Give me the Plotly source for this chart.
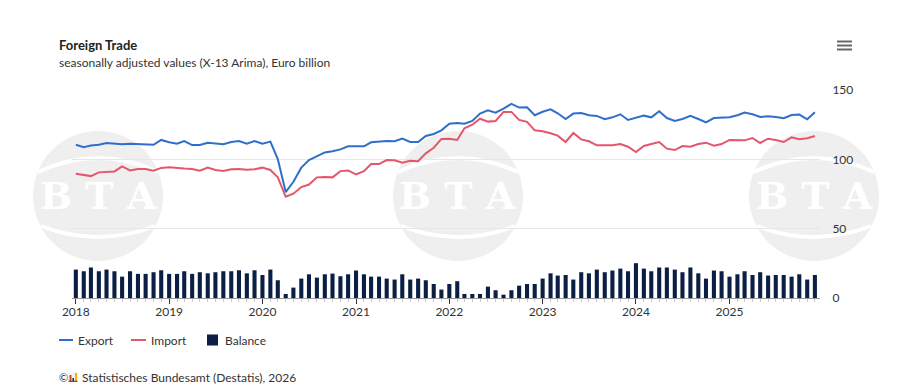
import pandas as pd
import plotly.graph_objects as go

# ---------------- data ----------------
months = pd.date_range("2018-01-01", "2025-12-01", freq="MS")

export_vals = [
    110.5, 108.7, 110.0, 110.5, 111.8, 111.3, 110.9, 111.3, 111.1, 110.9, 110.5, 114.0,
    112.3, 111.3, 113.2, 110.3, 110.3, 112.0, 111.5, 110.9, 112.5, 113.2, 111.3, 113.2,
    111.3, 112.8, 100.2, 76.4, 83.8, 94.0, 99.5, 102.0, 105.0, 105.8, 107.2, 109.4,
    109.4, 109.4, 112.3, 112.8, 113.2, 113.0, 114.9, 112.5, 112.5, 116.8, 118.3, 120.9,
    125.7, 126.2, 125.7, 127.7, 133.0, 135.4, 133.7, 136.6, 140.0, 137.3, 137.5, 131.8,
    134.3, 136.1, 133.2, 129.1, 133.0, 133.4, 131.8, 131.3, 128.9, 130.3, 132.5, 128.4,
    130.1, 131.5, 130.3, 134.7, 129.8, 127.7, 129.1, 131.3, 129.1, 126.7, 129.8, 130.3,
    130.3, 131.8, 133.7, 132.5, 130.6, 131.0, 130.6, 129.6, 132.0, 132.3, 128.9, 134.0,
]

import_vals = [
    89.6, 88.9, 87.9, 90.6, 91.1, 91.3, 94.9, 92.0, 93.0, 93.0, 91.8, 93.8,
    94.3, 93.5, 93.3, 93.0, 91.8, 94.0, 92.3, 91.6, 92.8, 93.0, 92.5, 92.8,
    94.0, 92.3, 87.0, 73.0, 75.2, 80.0, 81.8, 87.0, 87.3, 87.0, 91.5, 92.0,
    89.1, 91.5, 96.6, 96.6, 99.5, 99.3, 97.5, 99.0, 98.6, 104.3, 108.4, 114.7,
    114.9, 114.0, 122.4, 125.0, 129.3, 127.2, 127.7, 134.2, 134.2, 128.4, 127.0, 120.9,
    120.3, 118.8, 117.1, 112.5, 119.0, 114.4, 113.0, 110.1, 110.1, 110.1, 111.0, 109.1,
    105.3, 109.6, 111.0, 112.5, 107.7, 106.7, 109.6, 109.1, 111.0, 112.0, 109.8, 111.0,
    114.0, 114.0, 113.7, 115.4, 111.8, 114.9, 114.0, 112.5, 115.9, 114.5, 115.2, 116.8,
]

balance_vals = [
    20.5, 19.3, 22.0, 19.3, 20.5, 19.3, 15.4, 19.3, 17.4, 17.4, 18.6, 20.0,
    17.4, 17.4, 19.3, 17.4, 18.6, 17.8, 18.6, 19.3, 19.3, 20.0, 17.8, 20.0,
    16.6, 20.5, 12.8, 2.9, 7.5, 14.0, 17.1, 14.7, 17.1, 17.6, 15.7, 17.1,
    19.8, 17.1, 15.4, 15.4, 14.0, 13.3, 17.1, 13.3, 14.0, 12.8, 10.1, 6.1,
    10.1, 12.1, 2.9, 2.9, 2.9, 8.2, 5.6, 2.4, 5.6, 8.9, 10.1, 10.1,
    14.0, 17.8, 16.2, 16.6, 13.3, 18.6, 17.8, 20.5, 18.6, 19.8, 21.2, 19.3,
    25.1, 21.2, 19.3, 22.0, 22.0, 20.5, 18.6, 22.0, 17.8, 14.0, 19.8, 19.3,
    15.4, 17.1, 19.3, 16.6, 18.6, 16.2, 16.6, 16.6, 15.4, 17.1, 13.3, 16.6,
]

year_ticks = ["2018-01-01", "2019-01-01", "2020-01-01", "2021-01-01",
              "2022-01-01", "2023-01-01", "2024-01-01", "2025-01-01"]
year_labels = ["2018", "2019", "2020", "2021", "2022", "2023", "2024", "2025"]
y_ticks = [0, 50, 100, 150]

series_names = ["Export", "Import", "Balance"]
title_text = "Foreign Trade"
subtitle_text = "seasonally adjusted values (X-13 Arima), Euro billion"
source_text = "Statistisches Bundesamt (Destatis), 2026"

# ---------------- style ----------------
BLUE = "#2f6fcb"
RED = "#e6566b"
NAVY = "#0b1f45"
FONT = "Lato, 'Noto Sans', sans-serif"

W_FIG, H_FIG = 901, 387
L, R, T, B = 72, 820, 90, 298


def px(x):
    return (x - L) / (R - L)


def py(y):
    return (B - y) / (B - T)


fig = go.Figure()

fig.add_trace(go.Bar(
    x=months, y=balance_vals, name=series_names[2],
    marker=dict(color=NAVY, line=dict(width=0)),
    width=16 * 86400000, showlegend=False,
))
fig.add_trace(go.Scatter(
    x=months, y=import_vals, name=series_names[1], mode="lines",
    line=dict(color=RED, width=2), showlegend=False,
))
fig.add_trace(go.Scatter(
    x=months, y=export_vals, name=series_names[0], mode="lines",
    line=dict(color=BLUE, width=2), showlegend=False,
))

shapes = []
annotations = []

# watermark logos (faint)
for cx in (98, 458, 814):
    cy, r = 196, 65
    shapes.append(dict(type="circle", xref="paper", yref="paper", layer="below",
                       x0=px(cx - r), x1=px(cx + r), y0=py(cy + r), y1=py(cy - r),
                       fillcolor="#efefef", line=dict(width=0)))
    shapes.append(dict(type="path", xref="paper", yref="paper", layer="below",
                       path=f"M {px(cx-60)},{py(cy-24)} Q {px(cx)},{py(cy-52)} {px(cx+60)},{py(cy-24)}",
                       line=dict(color="white", width=4)))
    shapes.append(dict(type="path", xref="paper", yref="paper", layer="below",
                       path=f"M {px(cx-57)},{py(cy+30)} Q {px(cx)},{py(cy+52)} {px(cx+57)},{py(cy+30)}",
                       line=dict(color="white", width=4)))
    annotations.append(dict(xref="paper", yref="paper", x=px(cx), y=py(cy - 1),
                            text="<b>B T A</b>", showarrow=False, xanchor="center", yanchor="middle",
                            font=dict(family="DejaVu Serif", size=38, color="white")))

# title / subtitle
annotations.append(dict(xref="paper", yref="paper", x=px(57), y=py(45), text=f"<b>{title_text}</b>",
                        showarrow=False, xanchor="left", yanchor="middle",
                        font=dict(family=FONT, size=13, color="#222222")))
annotations.append(dict(xref="paper", yref="paper", x=px(57), y=py(62), text=subtitle_text,
                        showarrow=False, xanchor="left", yanchor="middle",
                        font=dict(family=FONT, size=12, color="#333333")))

# legend (manual)
LY = 340
shapes.append(dict(type="line", xref="paper", yref="paper", x0=px(59), x1=px(73), y0=py(LY), y1=py(LY),
                   line=dict(color=BLUE, width=2)))
annotations.append(dict(xref="paper", yref="paper", x=px(76), y=py(LY), text=series_names[0],
                        showarrow=False, xanchor="left", yanchor="middle",
                        font=dict(family=FONT, size=12, color="#333333")))
shapes.append(dict(type="line", xref="paper", yref="paper", x0=px(131), x1=px(146), y0=py(LY), y1=py(LY),
                   line=dict(color=RED, width=2)))
annotations.append(dict(xref="paper", yref="paper", x=px(149), y=py(LY), text=series_names[1],
                        showarrow=False, xanchor="left", yanchor="middle",
                        font=dict(family=FONT, size=12, color="#333333")))
shapes.append(dict(type="rect", xref="paper", yref="paper", x0=px(207), x1=px(218), y0=py(345.5), y1=py(334.5),
                   fillcolor=NAVY, line=dict(width=0)))
annotations.append(dict(xref="paper", yref="paper", x=px(223), y=py(LY), text=series_names[2],
                        showarrow=False, xanchor="left", yanchor="middle",
                        font=dict(family=FONT, size=12, color="#333333")))

# source line
SY = 377
annotations.append(dict(xref="paper", yref="paper", x=px(57), y=py(SY), text="©",
                        showarrow=False, xanchor="left", yanchor="middle",
                        font=dict(family=FONT, size=11, color="#333333")))
shapes.append(dict(type="rect", xref="paper", yref="paper", x0=px(68), x1=px(78), y0=py(381.5), y1=py(372.5),
                   fillcolor="#f3f3f3", line=dict(width=0)))
shapes.append(dict(type="rect", xref="paper", yref="paper", x0=px(69.5), x1=px(71.5), y0=py(381), y1=py(375),
                   fillcolor="#e03a3e", line=dict(width=0)))
shapes.append(dict(type="rect", xref="paper", yref="paper", x0=px(72.5), x1=px(74), y0=py(381), y1=py(378),
                   fillcolor="#222222", line=dict(width=0)))
shapes.append(dict(type="rect", xref="paper", yref="paper", x0=px(75), x1=px(77), y0=py(381), y1=py(373),
                   fillcolor="#f2b705", line=dict(width=0)))
shapes.append(dict(type="line", xref="paper", yref="paper", x0=px(68.5), x1=px(77.5), y0=py(381.3), y1=py(381.3),
                   line=dict(color="#333333", width=1)))
annotations.append(dict(xref="paper", yref="paper", x=px(80), y=py(SY), text=source_text,
                        showarrow=False, xanchor="left", yanchor="middle",
                        font=dict(family=FONT, size=12, color="#333333")))

# hamburger menu icon
for yy in (41.5, 45.5, 49.5):
    shapes.append(dict(type="line", xref="paper", yref="paper", x0=px(837), x1=px(852), y0=py(yy), y1=py(yy),
                       line=dict(color="#666666", width=2)))

fig.update_layout(
    width=W_FIG, height=H_FIG,
    margin=dict(l=L, r=W_FIG - R, t=T, b=H_FIG - B, pad=0),
    paper_bgcolor="white", plot_bgcolor="rgba(0,0,0,0)",
    font=dict(family=FONT, size=12, color="#333333"),
    showlegend=False, bargap=0.5,
    shapes=shapes, annotations=annotations,
)

fig.update_xaxes(
    type="date", range=["2017-12-17", "2025-12-21"],
    tickmode="array", tickvals=year_ticks, ticktext=year_labels,
    ticks="outside", ticklen=5, tickwidth=1, tickcolor="#333333",
    showline=True, linecolor="#999999", linewidth=1,
    showgrid=False, zeroline=False, ticklabelstandoff=-2,
    tickfont=dict(family=FONT, size=12, color="#333333"),
    minor=dict(tickmode="linear", tick0="2018-01-01", dtick="M1", ticks="outside",
               ticklen=3, tickcolor="#cccccc", tickwidth=1, showgrid=False),
)
fig.update_yaxes(
    range=[0, 150], side="right", tickmode="array", tickvals=y_ticks,
    showgrid=True, gridcolor="#e6e6e6", gridwidth=1, zeroline=False,
    ticks="outside", ticklen=9, tickcolor="rgba(0,0,0,0)",
    tickfont=dict(family=FONT, size=12, color="#333333"),
)

fig.write_html(
    "out.html",
    config={"displayModeBar": False},
    post_script="document.body.style.margin='0';document.body.style.overflow='hidden';",
)
